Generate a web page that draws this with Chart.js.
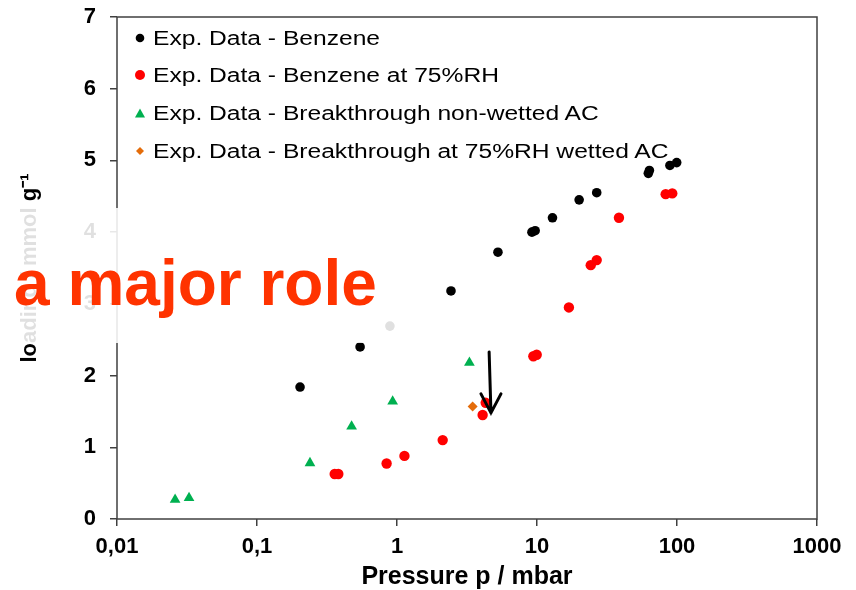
<!DOCTYPE html>
<html>
<head>
<meta charset="utf-8">
<script src="https://cdn.jsdelivr.net/npm/chart.js@4.4.1/dist/chart.umd.min.js"></script>
<style>
  html, body { margin: 0; padding: 0; background: #fff; }
  #wrap { position: relative; width: 856px; height: 590px; font-family: "Liberation Sans", Arial, sans-serif; }
  #chart { position: absolute; left: 0; top: 0; }
  #legend { position: absolute; left: 0; top: 0; }
  .lg-row { position: absolute; left: 134px; height: 38px; line-height: 38px; white-space: nowrap; }
  .lg-row svg { position: absolute; left: 0; top: 13px; }
  .lg-row span { position: absolute; left: 19px; font-size: 20px; color: #000; transform: scaleX(1.23); transform-origin: left center; }
  #fog { position: absolute; left: 0; top: 208px; width: 410px; height: 135px; background: rgba(255,255,255,0.88); }
  #role { position: absolute; left: 14px; top: 251px; font: bold 64px/64px "Liberation Sans", Arial, sans-serif; color: #ff3300; white-space: nowrap; }
</style>
</head>
<body>
<div id="wrap">
  <canvas id="chart" width="856" height="590"></canvas>
  <div id="legend"></div>
  <div id="fog"></div>
  <div id="role">a major role</div>
</div>
<script>
// pressure (mbar) / loading (mmol g-1)
const benzeneP = [0.203, 0.545, 0.89, 2.43, 5.26, 9.2, 9.7, 12.9, 20.0, 26.7, 62.4, 63.5, 89, 99.5];
const benzeneQ = [1.84, 2.40, 2.69, 3.18, 3.72, 4.00, 4.02, 4.20, 4.45, 4.55, 4.82, 4.86, 4.93, 4.97];

const rh75P = [0.359, 0.381, 0.843, 1.13, 2.12, 4.09, 4.30, 9.42, 9.95, 16.9, 24.2, 26.7, 38.5, 83.0, 92.5];
const rh75Q = [0.627, 0.627, 0.774, 0.88, 1.10, 1.45, 1.62, 2.27, 2.29, 2.95, 3.54, 3.61, 4.20, 4.53, 4.54];

const nonWetP = [0.026, 0.0327, 0.239, 0.474, 0.931, 3.29];
const nonWetQ = [0.27, 0.295, 0.78, 1.29, 1.64, 2.18];

const wetP = [3.47];
const wetQ = [1.57];

const seriesNames = [
  "Exp. Data - Benzene",
  "Exp. Data - Benzene at 75%RH",
  "Exp. Data - Breakthrough non-wetted AC",
  "Exp. Data - Breakthrough at 75%RH wetted AC"
];
const seriesColors = ["#000000", "#ff0000", "#00b050", "#e46c0a"];
const seriesShapes = ["circle", "circle", "triangle", "rectRot"];

const xTickValues = [0.01, 0.1, 1, 10, 100, 1000];
const xTickLabels = ["0,01", "0,1", "1", "10", "100", "1000"];

// arrow annotation, in data units [pressure, loading]
const arrowFrom = [4.55, 2.33];
const arrowTo = [4.69, 1.48];

const pts = (xs, ys) => xs.map((x, i) => ({x, y: ys[i]}));
const font = "'Liberation Sans', Arial, sans-serif";

const frame = {
  id: "frame",
  afterDatasetsDraw(chart) {
    const {ctx, chartArea: a, scales} = chart;
    ctx.save();
    ctx.strokeStyle = "#404040";
    ctx.lineWidth = 1.5;
    ctx.strokeRect(a.left, a.top, a.right - a.left, a.bottom - a.top);
    // arrow
    const x1 = scales.x.getPixelForValue(arrowFrom[0]), y1 = scales.y.getPixelForValue(arrowFrom[1]);
    const x2 = scales.x.getPixelForValue(arrowTo[0]), y2 = scales.y.getPixelForValue(arrowTo[1]);
    ctx.strokeStyle = "#000";
    ctx.lineWidth = 3;
    ctx.lineCap = "round";
    ctx.beginPath();
    ctx.moveTo(x1, y1);
    ctx.lineTo(x2, y2);
    ctx.moveTo(x2 - 10, y2 - 19);
    ctx.lineTo(x2, y2);
    ctx.lineTo(x2 + 10, y2 - 19);
    ctx.stroke();
    ctx.restore();
  }
};

new Chart(document.getElementById("chart"), {
  type: "scatter",
  data: {
    datasets: [
      {label: seriesNames[0], data: pts(benzeneP, benzeneQ), pointStyle: seriesShapes[0], pointRadius: 4.8, backgroundColor: seriesColors[0], borderColor: seriesColors[0], borderWidth: 0},
      {label: seriesNames[1], data: pts(rh75P, rh75Q), pointStyle: seriesShapes[1], pointRadius: 5.2, backgroundColor: seriesColors[1], borderColor: seriesColors[1], borderWidth: 0},
      {label: seriesNames[2], data: pts(nonWetP, nonWetQ), pointStyle: seriesShapes[2], pointRadius: 6.2, backgroundColor: seriesColors[2], borderColor: seriesColors[2], borderWidth: 0},
      {label: seriesNames[3], data: pts(wetP, wetQ), pointStyle: seriesShapes[3], pointRadius: 5, backgroundColor: seriesColors[3], borderColor: seriesColors[3], borderWidth: 0}
    ]
  },
  options: {
    responsive: false,
    animation: false,
    layout: {padding: {top: 17, right: 39, left: 0, bottom: 0}},
    plugins: {legend: {display: false}, tooltip: {enabled: false}},
    scales: {
      x: {
        type: "logarithmic",
        min: 0.01, max: 1000,
        afterFit: s => { s.height = 71; },
        afterBuildTicks: s => { s.ticks = xTickValues.map(v => ({value: v})); },
        grid: {drawOnChartArea: false, drawTicks: true, tickLength: 7, color: "#404040", lineWidth: 1.5},
        border: {display: false},
        ticks: {
          autoSkip: false, maxRotation: 0, padding: 8, color: "#000",
          font: {family: font, size: 22, weight: "bold"},
          callback: v => xTickLabels[xTickValues.indexOf(v)] ?? ""
        },
        title: {display: true, text: "Pressure p / mbar", color: "#000", padding: {top: 0, bottom: 0}, font: {family: font, size: 25, weight: "bold", lineHeight: 1}}
      },
      y: {
        min: 0, max: 7,
        afterFit: s => { s.width = 117; s.paddingTop = 0; s.paddingBottom = 0; },
        grid: {drawOnChartArea: false, drawTicks: true, tickLength: 7, color: "#404040", lineWidth: 1.5},
        border: {display: false},
        ticks: {stepSize: 1, padding: 14, color: "#000", font: {family: font, size: 22, weight: "bold"}},
        title: {display: true, text: "loading / mmol g⁻¹", color: "#000", padding: {top: 17, bottom: 0}, font: {family: font, size: 22, weight: "bold"}}
      }
    }
  },
  plugins: [frame]
});

// legend drawn inside the plot, top-left
const legendRowsY = [38, 75, 113, 151];
const legend = document.getElementById("legend");
seriesNames.forEach((name, i) => {
  const row = document.createElement("div");
  row.className = "lg-row";
  row.style.top = (legendRowsY[i] - 19) + "px";
  const c = seriesColors[i];
  let shape;
  if (seriesShapes[i] === "circle") shape = `<circle cx="6" cy="6" r="${i === 1 ? 5 : 4.3}" fill="${c}"/>`;
  else if (seriesShapes[i] === "triangle") shape = `<polygon points="6,1.5 11,10.5 1,10.5" fill="${c}"/>`;
  else shape = `<polygon points="6,2 10,6 6,10 2,6" fill="${c}"/>`;
  row.innerHTML = `<svg width="12" height="12">${shape}</svg><span>${name}</span>`;
  legend.appendChild(row);
});
</script>
</body>
</html>
